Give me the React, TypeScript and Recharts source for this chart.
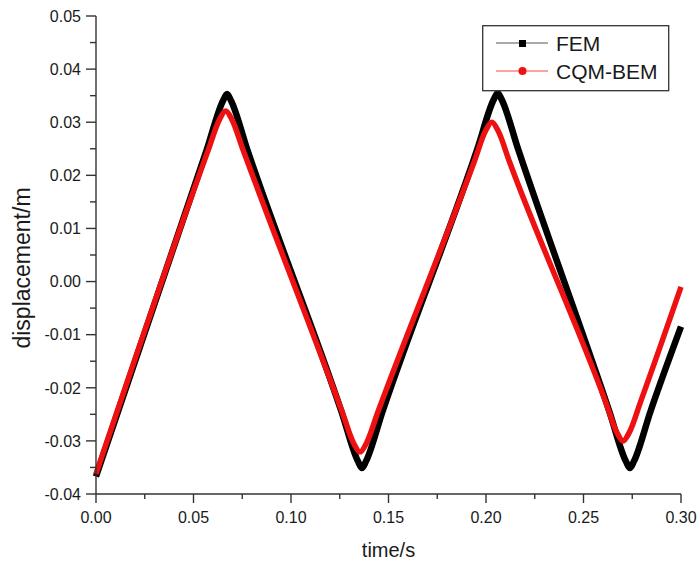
import React from 'react';
import { LineChart, Line, XAxis, YAxis, Legend } from 'recharts';

const femT = [0, 0.0567, 0.0652, 0.0672, 0.0692, 0.0777, 0.1259, 0.1344, 0.1364, 0.1384, 0.1469, 0.1955, 0.204, 0.206, 0.208, 0.2165, 0.2633, 0.2718, 0.2738, 0.2758, 0.2843, 0.3];
const femV = [-0.0367, 0.0247, 0.0341, 0.0353, 0.0341, 0.0247, -0.0245, -0.0339, -0.0351, -0.0339, -0.0245, 0.0249, 0.0343, 0.0355, 0.0343, 0.0249, -0.0245, -0.0339, -0.0351, -0.0339, -0.0245, -0.0085];
const cqmT = [0, 0.0575, 0.0633, 0.0665, 0.0697, 0.0755, 0.1264, 0.1322, 0.1354, 0.1386, 0.1444, 0.194, 0.1998, 0.203, 0.2062, 0.212, 0.2613, 0.2671, 0.2703, 0.2735, 0.2793, 0.3];
const cqmV = [-0.0362, 0.0247, 0.0305, 0.0321, 0.0305, 0.0247, -0.0247, -0.0305, -0.0321, -0.0305, -0.0247, 0.0226, 0.0284, 0.03, 0.0284, 0.0226, -0.0226, -0.0284, -0.03, -0.0284, -0.0226, -0.001];

const xTicks = [0, 0.025, 0.05, 0.075, 0.1, 0.125, 0.15, 0.175, 0.2, 0.225, 0.25, 0.275, 0.3];
const yTicks = [-0.04, -0.035, -0.03, -0.025, -0.02, -0.015, -0.01, -0.005, 0, 0.005, 0.01, 0.015, 0.02, 0.025, 0.03, 0.035, 0.04, 0.045, 0.05];

const seriesNames = ['FEM', 'CQM-BEM'];
const xTitle = 'time/s';
const yTitle = 'displacement/m';

const femData = femT.map((t, i) => ({ t, v: femV[i] }));
const cqmData = cqmT.map((t, i) => ({ t, v: cqmV[i] }));

const FONT = '"Liberation Sans", Arial, sans-serif';
const AX = '#333';
const TXT = '#1a1a1a';

const isMajor = (v: number, step: number) => Math.abs(Math.round(v / step) * step - v) < 1e-9;

const BottomTick = (p: any) => {
  const v = p.payload.value;
  const major = isMajor(v, 0.05);
  return (
    <g>
      <line x1={p.x} x2={p.x} y1={p.y} y2={p.y + (major ? 9 : 5)} stroke={AX} strokeWidth={1.4} />
      {major && (
        <text x={p.x} y={p.y + 29} textAnchor="middle" fontSize={16} fontFamily={FONT} fill={TXT}>
          {v.toFixed(2)}
        </text>
      )}
    </g>
  );
};

const TopTick = (p: any) => {
  const v = p.payload.value;
  const major = isMajor(v, 0.05);
  return <line x1={p.x} x2={p.x} y1={p.y} y2={p.y + (major ? 7 : 5)} stroke={AX} strokeWidth={1.4} />;
};

const LeftTick = (p: any) => {
  const v = p.payload.value;
  const major = isMajor(v, 0.01);
  return (
    <g>
      <line x1={p.x - (major ? 10 : 6)} x2={p.x} y1={p.y} y2={p.y} stroke={AX} strokeWidth={1.4} />
      {major && (
        <text x={p.x - 15} y={p.y} dy="0.36em" textAnchor="end" fontSize={16} fontFamily={FONT} fill={TXT}>
          {v.toFixed(2)}
        </text>
      )}
    </g>
  );
};

const RightTick = (p: any) => {
  const v = p.payload.value;
  const major = isMajor(v, 0.01);
  return <line x1={p.x - (major ? 7 : 5)} x2={p.x} y1={p.y} y2={p.y} stroke={AX} strokeWidth={1.4} />;
};

const YTitle = (props: any) => {
  const vb = props.viewBox || { x: 0, y: 16, width: 96, height: 478 };
  const cx = vb.x + 22;
  const cy = vb.y + vb.height / 2 + 13;
  return (
    <text
      x={cx}
      y={cy}
      dy="0.36em"
      textAnchor="middle"
      transform={`rotate(-90, ${cx}, ${cy})`}
      fontSize={23}
      fontFamily={FONT}
      fill={TXT}
    >
      {yTitle}
    </text>
  );
};

const LegendBox = () => (
  <svg width={188} height={67} style={{ display: 'block' }}>
    <rect x={0.7} y={0.7} width={186} height={65} fill="#fff" stroke={AX} strokeWidth={1.3} />
    <line x1={14} x2={66} y1={18} y2={18} stroke="#555" strokeWidth={1} />
    <rect x={37} y={15} width={7} height={7} fill="#000" />
    <text x={74} y={18} dy="0.36em" fontSize={21} fontFamily={FONT} fill={TXT}>{seriesNames[0]}</text>
    <line x1={14} x2={66} y1={46} y2={46} stroke="#ff4444" strokeWidth={1} />
    <circle cx={40.5} cy={46} r={4} fill="#ee1111" />
    <text x={74} y={46} dy="0.36em" fontSize={21} fontFamily={FONT} fill={TXT}>{seriesNames[1]}</text>
  </svg>
);

export default function App() {
  return (
    <div style={{ position: 'absolute', left: 0, top: 0, width: 699, height: 565, background: '#fff' }}>
      <LineChart width={699} height={565} margin={{ top: 16, right: 18, bottom: 0, left: 0 }}>
        <XAxis
          xAxisId={0}
          dataKey="t"
          type="number"
          domain={[0, 0.3]}
          ticks={xTicks}
          interval={0}
          tickSize={0}
          tickMargin={0}
          tickLine={false}
          height={71}
          axisLine={{ stroke: AX, strokeWidth: 1.4 }}
          tick={(p: any) => <BottomTick {...p} />}
          label={{ value: xTitle, position: 'insideBottom', offset: 8, style: { fontSize: 20, fontFamily: FONT, fill: TXT } }}
        />
        <XAxis
          xAxisId="top"
          orientation="top"
          dataKey="t"
          type="number"
          domain={[0, 0.3]}
          ticks={xTicks}
          interval={0}
          tickSize={0}
          tickMargin={0}
          tickLine={false}
          height={0}
          axisLine={{ stroke: AX, strokeWidth: 1.4 }}
          tick={(p: any) => <TopTick {...p} />}
        />
        <YAxis
          yAxisId={0}
          type="number"
          domain={[-0.04, 0.05]}
          ticks={yTicks}
          interval={0}
          tickSize={0}
          tickMargin={0}
          tickLine={false}
          width={96}
          axisLine={{ stroke: AX, strokeWidth: 1.4 }}
          tick={(p: any) => <LeftTick {...p} />}
          label={{ content: (lp: any) => <YTitle {...lp} /> }}
        />
        <YAxis
          yAxisId="right"
          orientation="right"
          type="number"
          domain={[-0.04, 0.05]}
          ticks={yTicks}
          interval={0}
          tickSize={0}
          tickMargin={0}
          tickLine={false}
          width={0}
          axisLine={{ stroke: AX, strokeWidth: 1.4 }}
          tick={(p: any) => <RightTick {...p} />}
        />
        <Legend
          layout="vertical"
          align="center"
          verticalAlign="middle"
          wrapperStyle={{ position: 'absolute', top: 25, left: 482, width: 188, height: 67 }}
          content={() => <LegendBox />}
        />
        <Line
          data={femData}
          dataKey="v"
          name={seriesNames[0]}
          type="monotone"
          stroke="#000"
          strokeWidth={6.5}
          dot={false}
          isAnimationActive={false}
        />
        <Line
          data={cqmData}
          dataKey="v"
          name={seriesNames[1]}
          type="monotone"
          stroke="#ee1111"
          strokeWidth={5.5}
          dot={false}
          isAnimationActive={false}
        />
      </LineChart>
    </div>
  );
}
